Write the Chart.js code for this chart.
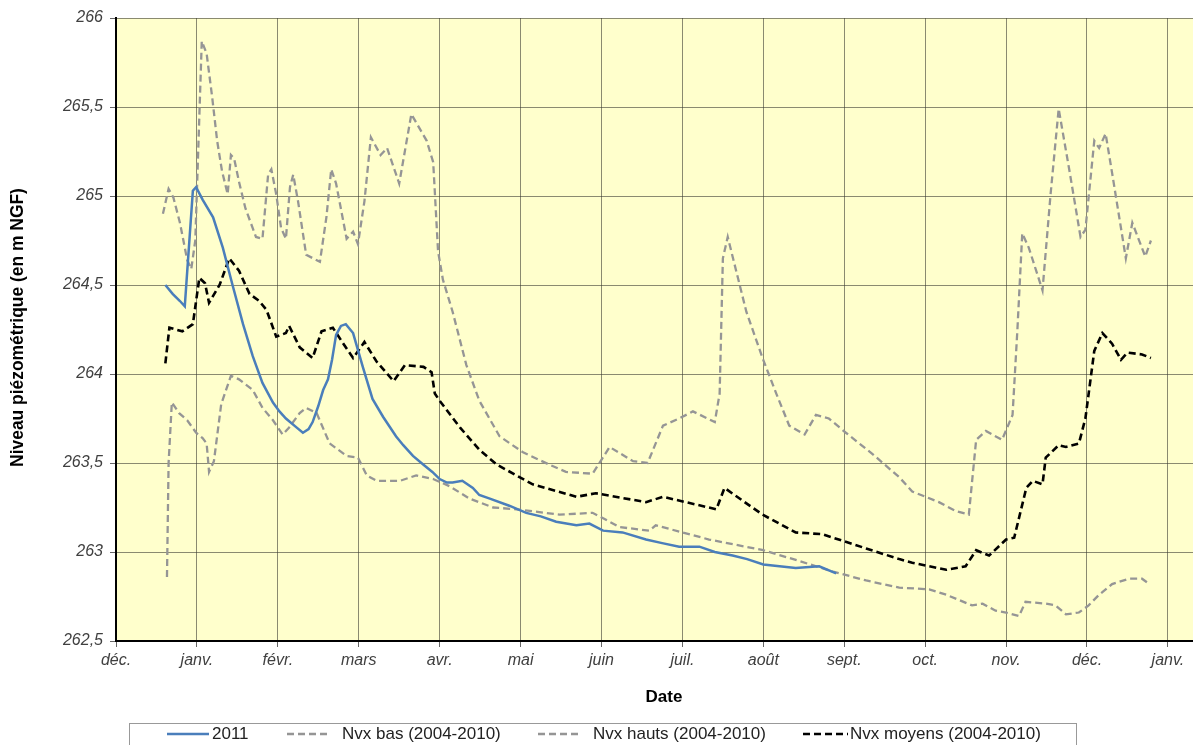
<!DOCTYPE html>
<html>
<head>
<meta charset="utf-8">
<script src="https://cdn.jsdelivr.net/npm/chart.js@4.4.1/dist/chart.umd.min.js"></script>
<style>
  html, body { margin: 0; padding: 0; background: #ffffff; }
  #wrap { width: 1193px; height: 745px; position: relative; }
</style>
</head>
<body>
<div id="wrap"><canvas id="c" width="1193" height="745"></canvas></div>
<script>
// ---- Data (x in months since 1 Dec; 0 = déc., 13 = janv.) ----
const monthLabels = ['déc.','janv.','févr.','mars','avr.','mai','juin','juil.','août','sept.','oct.','nov.','déc.','janv.'];
const yTicks = [262.5, 263, 263.5, 264, 264.5, 265, 265.5, 266];

const x2011 = [0.61,0.70,0.79,0.85,0.91,0.95,0.99,1.07,1.20,1.32,1.44,1.57,1.69,1.81,1.94,2.02,2.10,2.23,2.31,2.38,2.43,2.50,2.56,2.62,2.67,2.72,2.78,2.84,2.93,3.05,3.17,3.30,3.46,3.55,3.67,3.80,3.91,4.00,4.09,4.16,4.28,4.41,4.49,4.62,4.86,5.07,5.25,5.44,5.69,5.85,6.02,6.26,6.55,6.75,6.96,7.21,7.40,7.62,7.80,8.00,8.20,8.40,8.69,8.90];
const y2011 = [264.50,264.45,264.41,264.38,264.77,265.03,265.05,264.98,264.88,264.71,264.50,264.28,264.10,263.95,263.84,263.79,263.75,263.70,263.67,263.69,263.73,263.82,263.91,263.97,264.08,264.22,264.27,264.28,264.23,264.04,263.86,263.76,263.65,263.60,263.54,263.49,263.45,263.41,263.39,263.39,263.40,263.36,263.32,263.30,263.26,263.22,263.20,263.17,263.15,263.16,263.12,263.11,263.07,263.05,263.03,263.03,263.00,262.98,262.96,262.93,262.92,262.91,262.92,262.88];

const xBas = [0.63,0.65,0.69,0.78,0.88,0.99,1.07,1.12,1.15,1.21,1.30,1.42,1.52,1.69,1.81,1.94,2.06,2.14,2.27,2.35,2.48,2.64,2.85,2.99,3.10,3.22,3.51,3.71,3.92,4.12,4.37,4.66,4.95,5.48,5.89,6.02,6.22,6.59,6.67,7.00,7.33,8.00,8.44,8.86,9.27,9.68,10.05,10.26,10.58,10.71,10.87,11.00,11.16,11.24,11.49,11.61,11.74,11.90,12.02,12.15,12.31,12.52,12.68,12.74];
const yBas = [262.86,263.50,263.84,263.78,263.74,263.67,263.64,263.61,263.45,263.51,263.83,263.99,263.97,263.91,263.81,263.74,263.66,263.70,263.78,263.81,263.78,263.61,263.54,263.53,263.43,263.40,263.40,263.43,263.41,263.37,263.30,263.25,263.24,263.21,263.22,263.19,263.14,263.12,263.15,263.11,263.07,263.01,262.95,262.89,262.84,262.80,262.79,262.76,262.70,262.71,262.67,262.66,262.64,262.72,262.71,262.70,262.65,262.66,262.70,262.76,262.82,262.85,262.85,262.83];

const xHauts = [0.58,0.65,0.71,0.79,0.88,0.93,0.98,1.06,1.12,1.19,1.25,1.31,1.38,1.42,1.46,1.52,1.60,1.73,1.81,1.88,1.92,1.98,2.04,2.10,2.15,2.19,2.25,2.35,2.52,2.60,2.66,2.72,2.85,2.93,2.99,3.07,3.15,3.27,3.35,3.50,3.65,3.84,3.92,3.98,4.04,4.16,4.33,4.49,4.74,5.03,5.36,5.56,5.89,6.10,6.39,6.57,6.76,6.96,7.13,7.40,7.46,7.50,7.56,7.79,7.99,8.16,8.32,8.51,8.65,8.81,9.02,9.35,9.68,9.84,10.17,10.38,10.54,10.63,10.75,10.95,11.08,11.14,11.20,11.28,11.45,11.55,11.65,11.78,11.92,11.98,12.09,12.15,12.23,12.31,12.48,12.56,12.72,12.79];
const yHauts = [264.90,265.04,264.99,264.85,264.64,264.59,264.75,265.87,265.80,265.55,265.31,265.14,265.01,265.23,265.21,265.08,264.93,264.77,264.76,265.12,265.15,265.01,264.82,264.76,265.05,265.12,264.97,264.67,264.63,264.88,265.15,265.07,264.76,264.80,264.73,264.97,265.33,265.23,265.27,265.07,265.46,265.31,265.19,264.69,264.53,264.35,264.05,263.85,263.65,263.56,263.49,263.45,263.44,263.59,263.51,263.50,263.71,263.75,263.79,263.73,263.89,264.65,264.77,264.35,264.09,263.89,263.71,263.66,263.77,263.75,263.67,263.55,263.42,263.34,263.28,263.23,263.21,263.63,263.68,263.63,263.77,264.25,264.79,264.71,264.47,265.01,265.49,265.15,264.77,264.81,265.31,265.27,265.35,265.13,264.65,264.85,264.66,264.75];

const xMoyens = [0.61,0.66,0.82,0.95,1.03,1.10,1.15,1.28,1.40,1.52,1.65,1.77,1.86,1.98,2.10,2.14,2.27,2.43,2.54,2.68,2.81,2.93,3.07,3.22,3.43,3.57,3.80,3.90,3.94,4.00,4.25,4.50,4.71,5.15,5.69,5.93,6.55,6.76,7.42,7.52,7.99,8.40,8.73,9.27,9.68,9.84,10.26,10.50,10.63,10.79,11.00,11.10,11.25,11.33,11.45,11.49,11.65,11.74,11.90,11.98,12.09,12.19,12.31,12.42,12.50,12.68,12.79];
const yMoyens = [264.06,264.26,264.24,264.28,264.54,264.51,264.40,264.50,264.65,264.58,264.45,264.41,264.36,264.21,264.23,264.27,264.15,264.09,264.24,264.26,264.17,264.09,264.18,264.07,263.96,264.05,264.04,264.01,263.89,263.85,263.70,263.57,263.49,263.38,263.31,263.33,263.28,263.31,263.24,263.36,263.21,263.11,263.10,263.02,262.96,262.94,262.90,262.92,263.01,262.98,263.07,263.08,263.36,263.40,263.38,263.53,263.60,263.59,263.61,263.75,264.13,264.23,264.17,264.08,264.12,264.11,264.09];

const seriesNames = ['2011', 'Nvx bas (2004-2010)', 'Nvx hauts (2004-2010)', 'Nvx moyens (2004-2010)'];

function pts(xs, ys) { return xs.map((x, i) => ({ x: x, y: ys[i] })); }

const FONT = "'Liberation Sans', Arial, sans-serif";

const bgPlugin = {
  id: 'bg',
  beforeDraw(chart) {
    const a = chart.chartArea, ctx = chart.ctx;
    ctx.save();
    ctx.fillStyle = '#FFFFCC';
    ctx.fillRect(a.left, a.top, a.right - a.left, a.bottom - a.top);
    ctx.restore();
  }
};

const decorPlugin = {
  id: 'decor',
  afterDraw(chart) {
    const ctx = chart.ctx, a = chart.chartArea;
    // Y title, sized to span ~279px
    const yTitle = 'Niveau piézométrique (en m NGF)';
    ctx.save();
    ctx.font = 'bold 10px ' + FONT;
    const w10 = ctx.measureText(yTitle).width;
    const size = Math.min(18, 10 * 279 / w10);
    ctx.fillStyle = '#000';
    ctx.font = 'bold ' + size.toFixed(2) + 'px ' + FONT;
    ctx.textAlign = 'center';
    ctx.textBaseline = 'middle';
    ctx.translate(18, 327.5);
    ctx.rotate(-Math.PI / 2);
    ctx.fillText(yTitle, 0, 0);
    ctx.restore();

    ctx.save();
    ctx.fillStyle = '#000';
    ctx.font = 'bold 17px ' + FONT;
    ctx.textAlign = 'center';
    ctx.textBaseline = 'middle';
    ctx.fillText('Date', 664, 697);
    ctx.restore();

    // Legend
    ctx.save();
    ctx.strokeStyle = '#999999';
    ctx.lineWidth = 1;
    ctx.strokeRect(129.5, 723.5, 947, 40);
    const ly = 734;
    const items = [
      { x0: 167, x1: 209, tx: 212 },
      { x0: 287, x1: 328, tx: 342 },
      { x0: 538, x1: 580, tx: 593 },
      { x0: 803, x1: 848, tx: 850 }
    ];
    chart.data.datasets.forEach((ds, i) => {
      const it = items[i];
      ctx.beginPath();
      ctx.strokeStyle = ds.borderColor;
      ctx.lineWidth = ds.borderWidth;
      ctx.setLineDash(ds.borderDash || []);
      ctx.moveTo(it.x0, ly);
      ctx.lineTo(it.x1, ly);
      ctx.stroke();
      ctx.setLineDash([]);
      ctx.fillStyle = '#222';
      ctx.font = '17px ' + FONT;
      ctx.textAlign = 'left';
      ctx.textBaseline = 'middle';
      ctx.fillText(ds.label, it.tx, ly);
    });
    ctx.restore();
  }
};

new Chart(document.getElementById('c'), {
  type: 'line',
  data: {
    datasets: [
      { label: seriesNames[0], data: pts(x2011, y2011), borderColor: '#4A7EBB', borderWidth: 2.5, pointRadius: 0, tension: 0, fill: false, order: 0 },
      { label: seriesNames[1], data: pts(xBas, yBas), borderColor: '#959595', borderWidth: 2.3, borderDash: [7, 4], pointRadius: 0, tension: 0, fill: false, order: 2 },
      { label: seriesNames[2], data: pts(xHauts, yHauts), borderColor: '#959595', borderWidth: 2.3, borderDash: [7, 4], pointRadius: 0, tension: 0, fill: false, order: 3 },
      { label: seriesNames[3], data: pts(xMoyens, yMoyens), borderColor: '#000000', borderWidth: 2.6, borderDash: [7, 4], pointRadius: 0, tension: 0, fill: false, order: 1 }
    ]
  },
  options: {
    responsive: false,
    animation: false,
    layout: { padding: { top: 18, right: 0, left: 0, bottom: 0 } },
    plugins: { legend: { display: false }, tooltip: { enabled: false } },
    scales: {
      x: {
        type: 'linear',
        min: 0,
        max: 13.31,
        afterFit(scale) { scale.height = 104; },
        border: { color: '#000', width: 2 },
        grid: { color: 'rgba(60,60,50,0.6)', lineWidth: 1, tickLength: 6, drawTicks: true, tickColor: '#666' },
        ticks: {
          stepSize: 1,
          includeBounds: false,
          autoSkip: false,
          maxRotation: 0,
          padding: 4,
          color: '#404040',
          font: { family: FONT, size: 16, style: 'italic' },
          callback: (v) => (Number.isInteger(v) && monthLabels[v] !== undefined) ? monthLabels[v] : ''
        }
      },
      y: {
        type: 'linear',
        min: yTicks[0],
        max: yTicks[yTicks.length - 1],
        afterFit(scale) { scale.width = 116; },
        afterBuildTicks(scale) { scale.ticks = yTicks.map(v => ({ value: v })); },
        border: { color: '#000', width: 2 },
        grid: { color: 'rgba(60,60,50,0.6)', lineWidth: 1, tickLength: 6, tickColor: '#666' },
        ticks: {
          padding: 7,
          color: '#404040',
          font: { family: FONT, size: 16, style: 'italic' },
          callback: (v) => String(v).replace('.', ',')
        }
      }
    }
  },
  plugins: [bgPlugin, decorPlugin]
});
</script>
</body>
</html>
